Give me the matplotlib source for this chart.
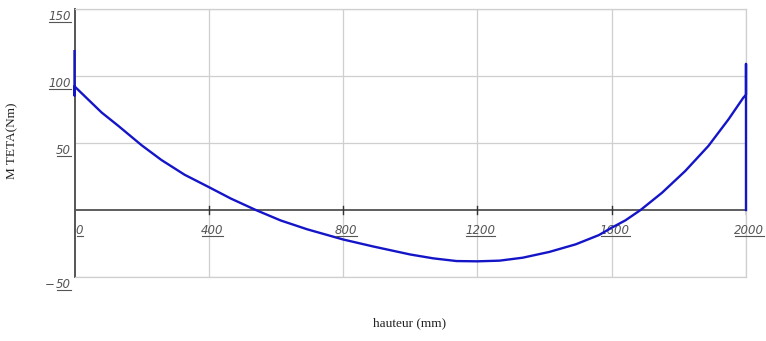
import matplotlib
matplotlib.use("Agg")
import matplotlib.pyplot as plt
import matplotlib.transforms as mtransforms
from matplotlib.lines import Line2D

# Data
hauteur = [0, 0, 0, 81, 130, 200, 259, 328, 400, 466, 540, 614, 693, 800, 891, 1000,
           1069, 1138, 1200, 1266, 1335, 1414, 1493, 1562, 1600, 1641, 1686, 1750,
           1819, 1888, 1948, 1992, 2000, 2000, 2000]
m_teta = [118.5, 85.5, 92.3, 72.7, 62.9, 48.3, 37.3, 26.3, 17.1, 8.5, 0.0, -7.8, -14.4, -22.0, -27.3, -33.2,
          -36.1, -38.1, -38.3, -37.8, -35.6, -31.3, -25.6, -18.7, -13.2, -7.7, 0.0, 12.9,
          29.1, 47.8, 67.7, 83.8, 86.0, 109.0, 0.0]

x_ticks = [0, 400, 800, 1200, 1600, 2000]
x_tick_labels = ["0", "400", "800", "1200", "1600", "2000"]
y_ticks = [150, 100, 50, -50]
y_tick_labels = ["150", "100", "50", "50"]
x_label = "hauteur (mm)"
y_label = "M TETA(Nm)"

fig = plt.figure(figsize=(7.66, 3.41), dpi=100)
ax = fig.add_axes([74.5 / 766, 1 - 277 / 341, (746 - 74.5) / 766, (277 - 9) / 341])
ax.set_xlim(0, 2000)
ax.set_ylim(-50, 150)

grid_c = "#cfcfcf"
for xv in x_ticks[1:]:
    ax.axvline(xv, color=grid_c, lw=0.9, zorder=1)
for yv in y_ticks:
    ax.axhline(yv, color=grid_c, lw=0.9, zorder=1)

for s in ["top", "right", "bottom"]:
    ax.spines[s].set_color(grid_c)
    ax.spines[s].set_linewidth(0.9)
ax.spines["left"].set_color("#555555")
ax.spines["left"].set_linewidth(1.4)
ax.set_xticks([])
ax.set_yticks([])

ax.axhline(0, color="#333333", lw=1.1, zorder=2)
for xv in x_ticks[1:]:
    ax.plot([xv, xv], [-2.8, 2.8], color="#333333", lw=1.0, zorder=2)

ax.plot(hauteur, m_teta, color="#1515c8", lw=1.7, zorder=5, clip_on=False,
        solid_joinstyle="round")

lab_c = "#555555"
fs = 8.5
texts = []
for xv, lab in zip(x_ticks, x_tick_labels):
    off = mtransforms.offset_copy(ax.transData, fig=fig, x=(5 if xv == 0 else 3), y=-14, units="dots")
    t = ax.text(xv, 0, lab, transform=off, ha="center", va="top", fontsize=fs,
                style="italic", color=lab_c, family="DejaVu Sans")
    texts.append(t)
for yv, lab in zip(y_ticks, y_tick_labels):
    off = mtransforms.offset_copy(ax.transData, fig=fig, x=-4, y=-1, units="dots")
    t = ax.text(0, yv, lab, transform=off, ha="right", va="top", fontsize=fs,
                style="italic", color=lab_c, family="DejaVu Sans")
    texts.append(t)
    if yv < 0:
        off2 = mtransforms.offset_copy(ax.transData, fig=fig, x=-20, y=-1, units="dots")
        ax.text(0, yv, "\u2212", transform=off2, ha="right", va="top", fontsize=fs,
                color=lab_c, family="DejaVu Sans")

fig.text(410 / 766, 1 - 323 / 341, x_label, ha="center", va="center", fontsize=9.5,
         family="Liberation Serif", color="#222222")
fig.text(12 / 766, 1 - 141 / 341, y_label, ha="center", va="center", rotation=90,
         fontsize=9.5, family="Liberation Serif", color="#222222")

fig.canvas.draw()
renderer = fig.canvas.get_renderer()
inv = fig.transFigure.inverted()
for t in texts:
    bb = t.get_window_extent(renderer)
    (x0, y0) = inv.transform((bb.x0 + 1, bb.y0 + 1))
    (x1, _) = inv.transform((bb.x1, bb.y0 + 1))
    fig.add_artist(Line2D([x0, x1], [y0, y0], transform=fig.transFigure,
                          color=lab_c, lw=0.8))

fig.savefig("out.png", dpi=100)
